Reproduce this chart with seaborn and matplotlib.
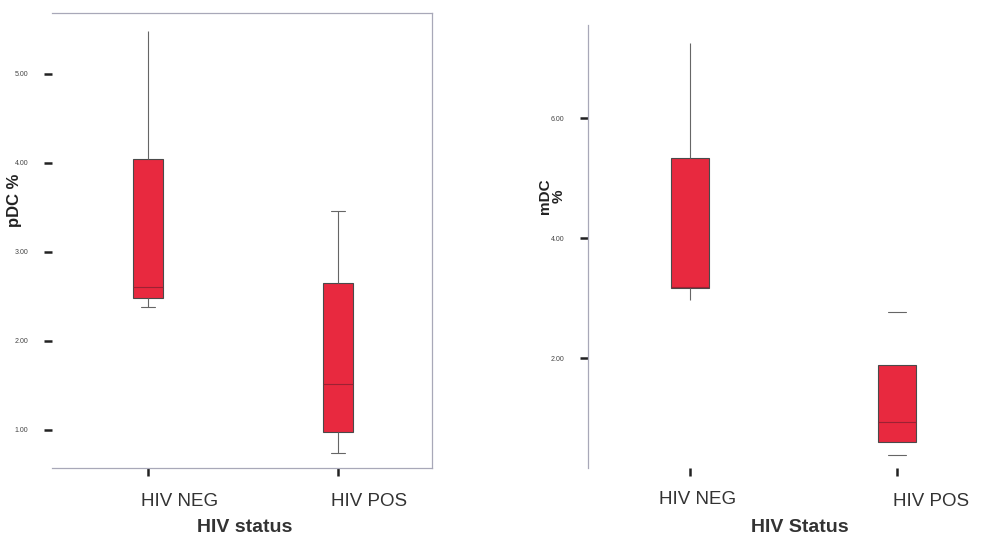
import numpy as np
import pandas as pd
import seaborn as sns
import matplotlib
matplotlib.use("Agg")
import matplotlib.pyplot as plt
import matplotlib.transforms as mtransforms

sns.set_style("white")
plt.rcParams["font.family"] = ["Liberation Sans", "DejaVu Sans"]

# ---- data (five-number summaries: min, q1, median, q3, max)
groups = ["HIV NEG", "HIV POS"]
pdc_neg = [2.38, 2.48, 2.61, 4.05, 5.48]
pdc_pos = [0.74, 0.98, 1.52, 2.65, 3.46]
mdc_neg = [2.97, 3.17, 3.18, 5.33, 7.25]
mdc_pos = [0.38, 0.60, 0.93, 1.88, 2.77]
pdc_ticks = [1.0, 2.0, 3.0, 4.0, 5.0]
mdc_ticks = [2.0, 4.0, 6.0]

RED = "#E8293F"
EDGE = "#4a4a4a"
MED = "#9c2233"
SPINE = "#a8a8b8"

fig = plt.figure(figsize=(9.94, 5.38), dpi=100)
W, H = 994, 538
ax1 = fig.add_axes([52 / W, (H - 468) / H, (432 - 52) / W, (468 - 13) / H])
ax2 = fig.add_axes([588 / W, (H - 468) / H, (990 - 588) / W, (468 - 25) / H])


def draw_box(ax, group, values, width, show_whiskers=True, caps="both"):
    df = pd.DataFrame({"g": [group] * len(values), "v": values})
    n0 = len(ax.lines)
    sns.boxplot(data=df, x="g", y="v", order=groups, whis=(0, 100),
                width=width, color=RED, saturation=1, showfliers=False,
                boxprops=dict(facecolor=RED, edgecolor=EDGE, linewidth=0.8),
                whiskerprops=dict(color="#666666", linewidth=0.8 if show_whiskers else 0),
                capprops=dict(color="#666666", linewidth=0.8),
                medianprops=dict(color=MED, linewidth=0.8),
                ax=ax)
    vmin, vmax = min(values), max(values)
    for ln in ax.lines[n0:]:
        x, y = np.asarray(ln.get_xdata(), float), np.asarray(ln.get_ydata(), float)
        if len(y) == 2 and y[0] == y[1]:
            is_cap = np.isclose(y[0], vmin) or np.isclose(y[0], vmax)
            if is_cap:
                if caps == "none":
                    ln.set_visible(False)
                elif caps == "low" and np.isclose(y[0], vmax):
                    ln.set_visible(False)
                else:
                    c = x.mean()
                    ln.set_xdata([c - width * 0.23, c + width * 0.23])


draw_box(ax1, "HIV NEG", pdc_neg, 0.16, caps="low")
draw_box(ax1, "HIV POS", pdc_pos, 0.16, caps="both")
draw_box(ax2, "HIV NEG", mdc_neg, 0.18, caps="none")
draw_box(ax2, "HIV POS", mdc_pos, 0.18, show_whiskers=False, caps="both")

# ---- axis styling
ax1.set_xlim(-0.505, 1.495)
ax1.set_ylim(0.573, 5.685)
ax1.set_yticks(pdc_ticks)
ax1.set_yticklabels([f"{t:.2f}" for t in pdc_ticks])
for s in ["top", "right", "bottom"]:
    ax1.spines[s].set_visible(True)
    ax1.spines[s].set_color(SPINE)
    ax1.spines[s].set_linewidth(0.9)
ax1.spines["left"].set_visible(False)

ax2.set_xlim(-0.493, 1.449)
ax2.set_ylim(0.167, 7.55)
ax2.set_yticks(mdc_ticks)
ax2.set_yticklabels([f"{t:.2f}" for t in mdc_ticks])
for s in ["top", "right", "bottom"]:
    ax2.spines[s].set_visible(False)
ax2.spines["left"].set_visible(True)
ax2.spines["left"].set_color(SPINE)
ax2.spines["left"].set_linewidth(0.9)

for ax in (ax1, ax2):
    ax.tick_params(axis="y", direction="out", length=6, width=1.8, color="#222222",
                   labelsize=5, labelcolor="#444444", pad=11, left=True)
    ax.tick_params(axis="x", direction="out", length=6, width=1.8, color="#222222",
                   labelsize=13.5, labelcolor="#333333", pad=12, bottom=True)
    ax.grid(False)

ax1.set_xlabel("HIV status", fontsize=14, fontweight="bold", color="#333333")
ax2.set_xlabel("HIV Status", fontsize=14, fontweight="bold", color="#333333")
ax1.xaxis.set_label_coords((245 - 52) / (432 - 52), -(527 - 468) / (468 - 13))
ax2.xaxis.set_label_coords((800 - 588) / (990 - 588), -(527 - 468) / (468 - 25))
for lab in (ax1.xaxis.label, ax2.xaxis.label):
    lab.set_va("center")

ax1.set_ylabel("pDC %", fontsize=12, fontweight="bold", color="#222222")
ax1.yaxis.set_label_coords((15 - 52) / (432 - 52), (468 - 200) / (468 - 13))
ax2.set_ylabel("mDC\n%", fontsize=11, fontweight="bold", color="#222222", linespacing=1.0)
ax2.yaxis.set_label_coords((552 - 588) / (990 - 588), (468 - 196) / (468 - 25))
for lab in (ax1.yaxis.label, ax2.yaxis.label):
    lab.set_va("center")

# shift x tick labels as in reference (done last so nothing resets them)
fig.canvas.draw()
shifts1 = [(32, 0), (31, 0)]
shifts2 = [(8, 2), (34, 0)]
for ax, shifts in ((ax1, shifts1), (ax2, shifts2)):
    for lab, (dx, dy) in zip(ax.get_xticklabels(), shifts):
        lab.set_transform(lab.get_transform() +
                          mtransforms.ScaledTranslation(dx / 100, dy / 100, fig.dpi_scale_trans))

fig.savefig("out.png", dpi=100, facecolor="white")
